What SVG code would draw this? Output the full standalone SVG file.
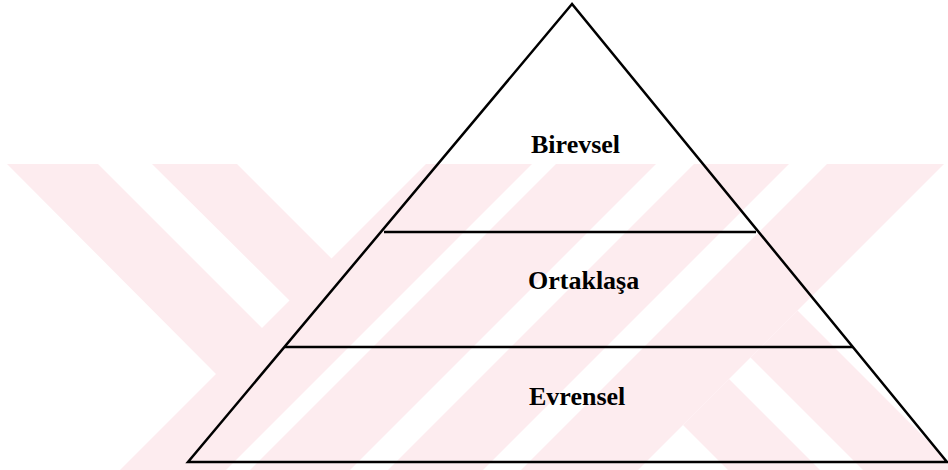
<svg xmlns="http://www.w3.org/2000/svg" width="948" height="470" viewBox="0 0 948 470">
  <style>
    .wm { fill: #fdecef; stroke: none; }
    .edge { fill: none; stroke: #000; stroke-width: 2.5; stroke-linejoin: miter; }
    .div { stroke: #000; stroke-width: 2.5; }
    .lbl { font-family: "Liberation Serif", "Times New Roman", serif; font-weight: bold; font-size: 26px; fill: #000; }
  </style>
  <defs>
    <clipPath id="wmclip">
      <rect x="0" y="164" width="948" height="306"/>
    </clipPath>
  </defs>
  <rect x="0" y="0" width="948" height="470" fill="#fff"/>
  <g id="watermark" clip-path="url(#wmclip)">
    <polygon class="wm" points="7,164 98,164 264,330 218,376"/>
    <polygon class="wm" points="152,164 237,164 333,260 291,302"/>
    <polygon class="wm" points="426,164 532,164 226,470 120,470"/>
    <polygon class="wm" points="556,164 656,164 350,470 250,470"/>
    <polygon class="wm" points="694,164 789,164 483,470 388,470"/>
    <polygon class="wm" points="827,164 944,164 638,470 521,470"/>
    <polygon class="wm" points="750.5,357.5 797.5,310.5 957,470 863,470"/>
    <polygon class="wm" points="683,425 729,379 820,470 728,470"/>
  </g>
  <g id="pyramid">
    <polygon class="edge" points="572,4 188,462 947,462"/>
  </g>
  <g id="connectors">
    <line class="div" x1="384" y1="232" x2="756" y2="232"/>
    <line class="div" x1="285" y1="347" x2="853" y2="347"/>
  </g>
  <g id="layer-birevsel">
    <text class="lbl" x="531" y="153">Birevsel</text>
  </g>
  <g id="layer-ortaklasa">
    <text class="lbl" x="528" y="289">Ortaklaşa</text>
  </g>
  <g id="layer-evrensel">
    <text class="lbl" x="529" y="405">Evrensel</text>
  </g>
</svg>
